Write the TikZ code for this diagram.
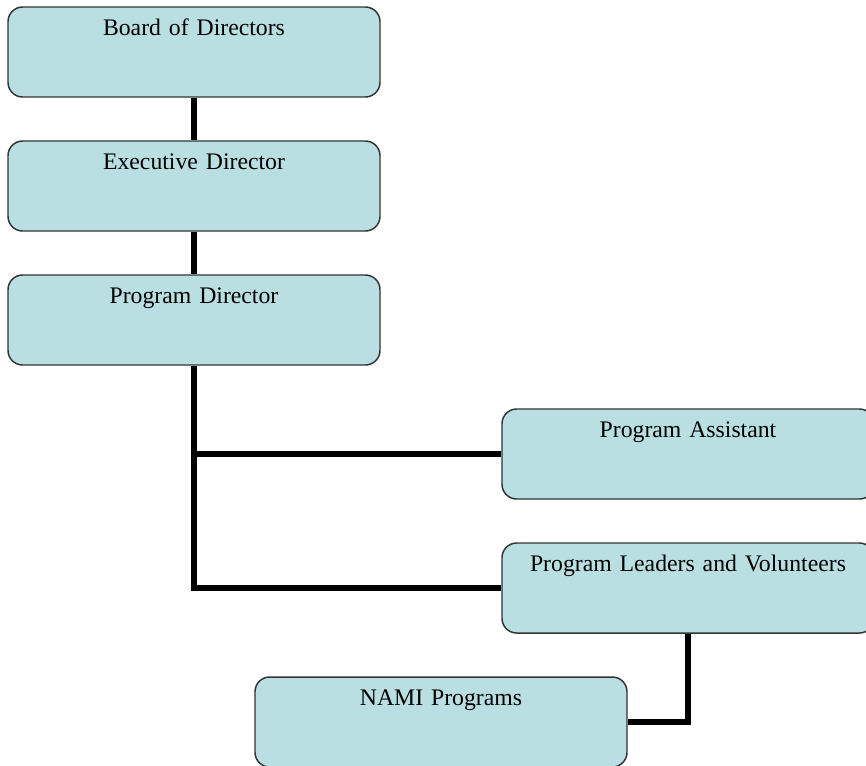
\documentclass[tikz,border=0pt]{standalone}
\usepackage{fontspec}
\setmainfont{Liberation Serif}
\definecolor{boxfill}{HTML}{B9DFE2}
\definecolor{boxline}{HTML}{333333}
\tikzset{
  orgbox/.style={draw=boxline, fill=boxfill, line width=1.1pt, rounded corners=11pt,
    inner xsep=4.5pt, inner ysep=0pt, text width=270pt, align=center,
    text height=21pt, text depth=46.5pt,
    font=\fontsize{17.8}{20}\selectfont},
  link/.style={line width=4.6pt, black}
}
\begin{document}
\begin{tikzpicture}[x=0.75pt,y=-0.75pt]
\useasboundingbox (0,0) rectangle (866,765);
\node[orgbox] (bod) at (194,52){Board of Directors};
\node[orgbox] (exec) at (194,186){Executive Director};
\node[orgbox] (pdir) at (194,320){Program Director};
\node[orgbox] (passt) at (688,454){Program Assistant};
\node[orgbox] (plv) at (688,588){Program Leaders and Volunteers};
\node[orgbox] (nami) at (441,722){NAMI Programs};
\draw[link](bod.south) -- (exec.north);
\draw[link](exec.south) -- (pdir.north);
\draw[link](pdir.south |- passt.west) -- (passt.west);
\draw[link](pdir.south) |- (plv.west);
\draw[link](plv.south) |- (nami.east);
\end{tikzpicture}
\end{document}
